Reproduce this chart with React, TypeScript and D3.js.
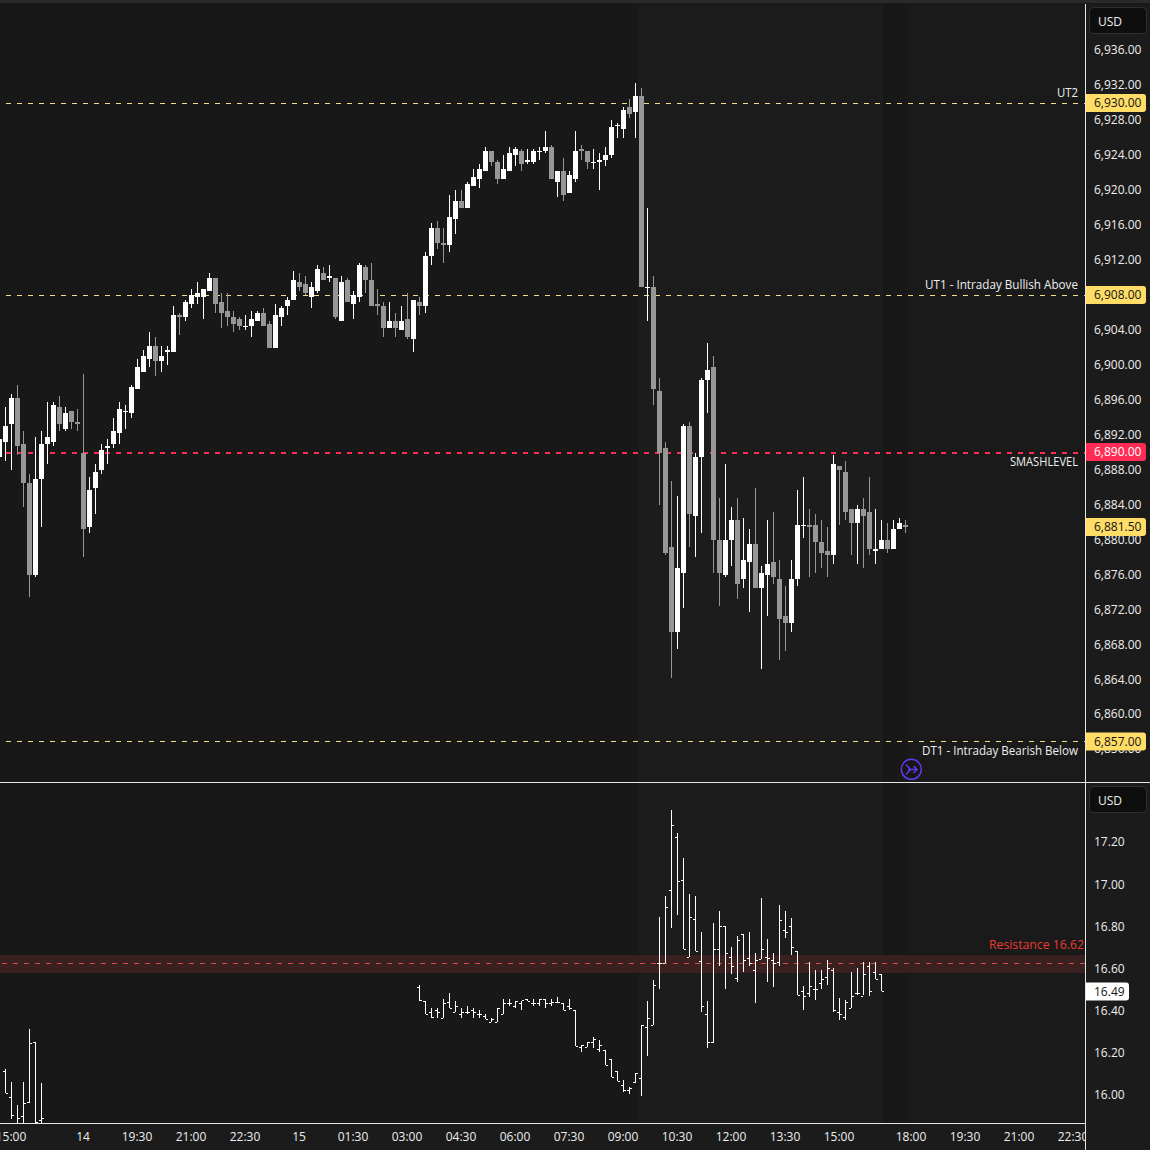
import React from "react";
import * as d3 from "d3";

// ---- Main price series (10-minute candles), first bar sits one slot left of slot 0
const firstSlot = -1;
const highs = [
  6892.5, 6895.25, 6896.75, 6897.75, 6892.5, 6887.5, 6891.75, 6892.5, 6895.75, 6895.75,
  6896.5, 6895.25, 6894.75, 6895, 6899, 6887.25, 6888.75, 6891, 6891.5, 6894,
  6895.75, 6895.5, 6897.75, 6900.75, 6901.75, 6903.75, 6903.25, 6902.25, 6902.25, 6906.75,
  6906, 6907.5, 6908.75, 6909.5, 6908.75, 6910.5, 6910, 6908.25, 6908.25, 6906.25,
  6905.5, 6905.75, 6906.25, 6906.25, 6906.5, 6905, 6907, 6906.75, 6907.75, 6910.75,
  6910.5, 6910.25, 6909.5, 6911.5, 6911.25, 6911.5, 6910, 6910.25, 6910, 6908.5,
  6911.75, 6911.5, 6911.75, 6908.75, 6907.25, 6907.25, 6906, 6906.75, 6908.25, 6907.5,
  6907.75, 6913, 6916.25, 6916.5, 6915.75, 6919.5, 6920, 6920, 6921, 6922.5,
  6923, 6925, 6924.5, 6923.5, 6924, 6925, 6925, 6924.75, 6924.75, 6924.75,
  6925, 6926.75, 6925.25, 6922.25, 6923.75, 6922.25, 6926.75, 6925.25, 6924.5, 6924.75,
  6924.25, 6925, 6928, 6927.75, 6929.5, 6930.5, 6932.25, 6931.75, 6918, 6910.25,
  6898.5, 6891.25, 6886.75, 6885, 6893.25, 6893.5, 6890, 6898.5, 6902.5, 6901,
  6884.75, 6888.75, 6883.75, 6884.75, 6882.5, 6881.25, 6886, 6877, 6882.25, 6883.25,
  6877.75, 6874.75, 6877.75, 6885.75, 6887.25, 6883.5, 6883, 6882.25, 6881.5, 6889.75,
  6888.5, 6889, 6883.5, 6884, 6884.75, 6887.25, 6883.5, 6882.25, 6882, 6882.25,
  6882.5, 6882.25,
];
const lows = [
  6889, 6889, 6888, 6889.75, 6883.75, 6873.5, 6875.75, 6881.5, 6888.75, 6890.75,
  6892.5, 6892.5, 6892.75, 6892.5, 6878, 6880.75, 6883, 6887.5, 6888.75, 6890.5,
  6891, 6892.75, 6894, 6897.25, 6899.25, 6899.75, 6898.75, 6899.25, 6900, 6901.5,
  6903.5, 6905, 6906.5, 6907, 6905.25, 6908.5, 6906, 6904.25, 6904.5, 6903.75,
  6904, 6904, 6903.25, 6905, 6904.5, 6902, 6902, 6904.5, 6905.75, 6907.5,
  6908.5, 6908, 6906.5, 6908.25, 6909.75, 6909.5, 6905.25, 6905, 6907.25, 6905.25,
  6907.25, 6908.25, 6906.75, 6905.75, 6903.25, 6904.25, 6903.25, 6904, 6903, 6901.5,
  6905.75, 6906, 6911.5, 6913.25, 6911.75, 6913, 6915, 6918, 6918, 6920.5,
  6920.25, 6922.25, 6922.75, 6920.75, 6921.25, 6922.25, 6922.75, 6922.25, 6923, 6923,
  6923.5, 6924.25, 6921.25, 6919.25, 6918.75, 6919.75, 6921, 6923.5, 6922.5, 6922.5,
  6920, 6922.75, 6923.75, 6926, 6926, 6928.25, 6926, 6909, 6905, 6895.5,
  6884, 6878.25, 6864.25, 6867.5, 6872.25, 6879.25, 6878, 6880.75, 6894.5, 6876.25,
  6872.5, 6875.75, 6877, 6873.25, 6874.5, 6871.75, 6874.5, 6865.25, 6871.25, 6875,
  6866.25, 6867.25, 6869.5, 6874.75, 6880.25, 6875.75, 6876.25, 6876.75, 6875.75, 6877.25,
  6881.75, 6882.25, 6878.25, 6877.25, 6876.75, 6878.25, 6877.25, 6879, 6878.5, 6879,
  6881.25, 6880.75,
];
const opens = [
  6889.5, 6891.25, 6893.25, 6896.25, 6891, 6886.5, 6876, 6887, 6891, 6891.25,
  6895.25, 6892.75, 6894.75, 6893.5, 6890, 6881.5, 6886, 6888, 6890.5, 6891,
  6892.25, 6894.75, 6894.5, 6897.25, 6899.25, 6900.75, 6902.25, 6900.5, 6901.5, 6901.5,
  6905.75, 6905.5, 6907, 6907.75, 6907.75, 6908.5, 6910, 6907.25, 6906.25, 6905.5,
  6905.25, 6904.5, 6904.5, 6905, 6906, 6904.75, 6902, 6905.5, 6906.75, 6907.5,
  6909.5, 6909.25, 6907.75, 6908.5, 6910.5, 6910, 6910, 6905, 6909.75, 6907,
  6907.75, 6911.25, 6909.75, 6907, 6906.75, 6904.25, 6905, 6904, 6905.25, 6903,
  6907.25, 6906.75, 6912.5, 6915.75, 6914, 6913.75, 6916.75, 6918.75, 6918, 6920.5,
  6921.25, 6922.25, 6924.5, 6923.25, 6921.25, 6922.25, 6924, 6924.5, 6923.25, 6923.25,
  6924.5, 6924.5, 6925, 6921, 6922.25, 6919.75, 6921.25, 6924.75, 6924.5, 6923.25,
  6923.25, 6923.5, 6924, 6927.5, 6927, 6929.5, 6929, 6930.75, 6909, 6909,
  6897, 6890.5, 6879.25, 6869.5, 6876.25, 6893, 6882.75, 6889.5, 6898.25, 6899.75,
  6880, 6876, 6880, 6882.25, 6875.5, 6877.5, 6879.5, 6874.5, 6876, 6877.5,
  6875.5, 6871.25, 6870.5, 6875.5, 6881.75, 6881.75, 6881.75, 6879.75, 6878.75, 6878.25,
  6888.5, 6887.75, 6883.5, 6882, 6883.5, 6883.25, 6878.75, 6879, 6880, 6879,
  6881.25, 6881.75,
];
const closes = [
  6891.5, 6893, 6896.25, 6890.75, 6886.5, 6876, 6887, 6891, 6891.75, 6895.5,
  6893.25, 6894.5, 6893.5, 6893.25, 6881.25, 6885.75, 6887.75, 6890.25, 6890.75, 6892.5,
  6895, 6894.75, 6897.5, 6899.75, 6901, 6902.25, 6900.5, 6901, 6901.75, 6905.75,
  6905.5, 6907.25, 6908, 6908.25, 6908.75, 6910, 6907, 6906, 6905.5, 6904.75,
  6904.5, 6904.5, 6905.25, 6906, 6904.5, 6902, 6905.75, 6906.5, 6907.5, 6909.75,
  6909, 6908.25, 6909, 6911, 6909.75, 6910.25, 6905.5, 6909.5, 6907.25, 6908,
  6911.5, 6909.75, 6906.75, 6906.75, 6904.25, 6905, 6904.25, 6905, 6903.25, 6907.5,
  6906.75, 6912.5, 6915.75, 6914, 6913.75, 6917, 6918.75, 6918, 6920.75, 6921.5,
  6922.5, 6924.5, 6923.25, 6921.25, 6922.5, 6924.25, 6924.75, 6923, 6923.5, 6924.5,
  6924.5, 6925, 6921.25, 6922.25, 6919.5, 6921.75, 6924.5, 6924.5, 6923.25, 6923.25,
  6923.5, 6924, 6927.25, 6927.5, 6929.25, 6928.75, 6930.75, 6909, 6909, 6897.25,
  6890, 6878.5, 6869.5, 6876.75, 6893, 6883, 6889.5, 6898.25, 6899.5, 6880,
  6876.25, 6880, 6882.25, 6875, 6877.75, 6879.5, 6874.5, 6876.25, 6877.25, 6875.75,
  6871, 6870.5, 6875.5, 6881.75, 6881.75, 6881.5, 6879.75, 6878.5, 6878.25, 6888.75,
  6888, 6883.25, 6882, 6883.5, 6882.75, 6879, 6879, 6880, 6879, 6881.25,
  6882, 6881.5,
];

// ---- Lower pane OHLC bars: early session
const earlyStart = 0;
const earlyHigh = [16.12, 16.057, 15.95, 16.057, 16.31, 16.247, 16.05];
const earlyLow = [16.005, 15.88, 15.84, 15.86, 15.957, 15.85, 15.85];
const earlyOpen = [16.11, 15.985, 15.86, 15.895, 15.96, 16.245, 15.876];
const earlyClose = [16.005, 15.9, 15.885, 15.957, 16.24, 15.867, 15.886];

// ---- Lower pane OHLC bars: later session
const lateStart = 69;
const lateHigh = [
  16.52, 16.44, 16.41, 16.41, 16.45, 16.48, 16.44, 16.41, 16.42, 16.41,
  16.40, 16.38, 16.36, 16.41, 16.45, 16.45, 16.44, 16.44, 16.45, 16.45,
  16.45, 16.45, 16.45, 16.46, 16.43, 16.45, 16.40, 16.235, 16.245, 16.27,
  16.255, 16.21, 16.165, 16.11, 16.065, 16.035, 16.10, 16.33, 16.44, 16.54,
  16.84, 16.94, 17.35, 17.24, 17.12, 16.95, 16.94, 16.77, 16.44, 16.81,
  16.87, 16.80, 16.70, 16.75, 16.76, 16.77, 16.67, 16.93, 16.735, 16.67,
  16.90, 16.87, 16.835, 16.68, 16.515, 16.625, 16.59, 16.59, 16.635, 16.60,
  16.455, 16.445, 16.58, 16.60, 16.625, 16.625, 16.625, 16.57,
];
const lateLow = [
  16.44, 16.38, 16.36, 16.36, 16.36, 16.41, 16.39, 16.36, 16.38, 16.36,
  16.36, 16.355, 16.34, 16.34, 16.38, 16.42, 16.41, 16.40, 16.44, 16.42,
  16.42, 16.41, 16.42, 16.43, 16.40, 16.40, 16.23, 16.20, 16.225, 16.22,
  16.20, 16.14, 16.08, 16.06, 16.01, 16.00, 16.05, 15.99, 16.18, 16.33,
  16.50, 16.62, 16.79, 16.85, 16.69, 16.65, 16.68, 16.39, 16.22, 16.24,
  16.61, 16.50, 16.57, 16.53, 16.58, 16.61, 16.43, 16.64, 16.53, 16.51,
  16.61, 16.74, 16.66, 16.47, 16.40, 16.46, 16.445, 16.50, 16.52, 16.39,
  16.35, 16.35, 16.41, 16.47, 16.47, 16.465, 16.545, 16.49,
];
const lateOpen = [
  16.51, 16.44, 16.39, 16.40, 16.36, 16.435, 16.39, 16.38, 16.39, 16.40,
  16.38, 16.37, 16.34, 16.34, 16.38, 16.43, 16.42, 16.43, 16.45, 16.43,
  16.43, 16.45, 16.43, 16.435, 16.43, 16.42, 16.40, 16.225, 16.225, 16.245,
  16.215, 16.21, 16.165, 16.11, 16.045, 16.02, 16.055, 16.075, 16.32, 16.33,
  16.62, 16.62, 16.97, 17.22, 17.015, 16.65, 16.83, 16.63, 16.38, 16.245,
  16.69, 16.80, 16.65, 16.55, 16.76, 16.645, 16.59, 16.64, 16.65, 16.635,
  16.625, 16.78, 16.80, 16.68, 16.49, 16.48, 16.50, 16.525, 16.555, 16.59,
  16.39, 16.365, 16.41, 16.48, 16.465, 16.61, 16.58, 16.57,
];
const lateClose = [
  16.445, 16.38, 16.365, 16.39, 16.43, 16.41, 16.42, 16.39, 16.39, 16.39,
  16.38, 16.355, 16.355, 16.41, 16.43, 16.43, 16.44, 16.445, 16.44, 16.43,
  16.45, 16.43, 16.435, 16.435, 16.40, 16.41, 16.23, 16.235, 16.245, 16.26,
  16.235, 16.14, 16.08, 16.06, 16.02, 16.03, 16.10, 16.33, 16.36, 16.52,
  16.62, 16.89, 17.28, 17.01, 16.69, 16.84, 16.68, 16.42, 16.245, 16.69,
  16.80, 16.67, 16.61, 16.73, 16.635, 16.62, 16.635, 16.69, 16.645, 16.62,
  16.825, 16.77, 16.70, 16.47, 16.465, 16.515, 16.50, 16.545, 16.60, 16.40,
  16.38, 16.435, 16.465, 16.48, 16.57, 16.49, 16.545, 16.49,
];

// ---- Axis labels and levels
const priceTicks = [6936, 6932, 6928, 6924, 6920, 6916, 6912, 6908, 6904, 6900, 6896, 6892, 6888, 6884, 6880, 6876, 6872, 6868, 6864, 6860, 6856];
const vixTicks = [17.2, 17.0, 16.8, 16.6, 16.4, 16.2, 16.0];
const timeSlots = [0, 13, 22, 31, 40, 49, 58, 67, 76, 85, 94, 103, 112, 121, 130, 139, 151, 160, 169, 178];
const timeLabels = ["15:00", "14", "19:30", "21:00", "22:30", "15", "01:30", "03:00", "04:30", "06:00", "07:30", "09:00", "10:30", "12:00", "13:30", "15:00", "18:00", "19:30", "21:00", "22:30"];
const levelNames = ["UT2", "UT1 - Intraday Bullish Above", "SMASHLEVEL", "DT1 - Intraday Bearish Below"];
const levelPrices = [6930, 6908, 6890, 6857];
const levelKinds = ["gold", "gold", "red", "gold"];
const lastPrice = 6881.5;
const lastVix = 16.49;
const resistance = 16.62;
const resistanceLow = 16.575;
const resistanceHigh = 16.66;

const FONT = "'Open Sans', 'Noto Sans', sans-serif";
const BG = "#181818";
const GRAY = "#979797";
const GOLD = "#ffdd66";
const RED = "#ff2d55";
const AXIS_X = 1085;
const TEXT = "#eeeeee";

const xPos = d3.scaleLinear().domain([0, 1]).range([5.5, 11.5]);
const yPrice = d3.scaleLinear().domain([6930, 6857]).range([103, 741]);
const yVix = d3.scaleLinear().domain([16, 17]).range([1094, 883.5]);
const priceFmt = d3.format(",.2f");
const vixFmt = d3.format(".2f");

function Candles() {
  return (
    <g clipPath="url(#clipTop)">
      {highs.map((h, i) => {
        const cx = xPos(firstSlot + i);
        const o = opens[i];
        const c = closes[i];
        const up = c >= o;
        const fill = up ? "#ffffff" : GRAY;
        const top = Math.round(yPrice(Math.max(o, c)));
        const bot = Math.round(yPrice(Math.min(o, c)));
        const yh = Math.round(yPrice(h));
        const yl = Math.round(yPrice(lows[i]));
        return (
          <g key={i} fill={fill}>
            <rect x={cx - 0.5} y={yh} width={1} height={Math.max(1, yl - yh)} />
            <rect x={cx - 2.5} y={top} width={5} height={Math.max(1, bot - top)} />
          </g>
        );
      })}
    </g>
  );
}

function Bars({ start, hi, lo, op, cl }: { start: number; hi: number[]; lo: number[]; op: number[]; cl: number[] }) {
  return (
    <g fill="#ffffff">
      {hi.map((h, i) => {
        const cx = xPos(start + i);
        const yh = Math.round(yVix(h));
        const yl = Math.round(yVix(lo[i]));
        return (
          <g key={i}>
            <rect x={cx - 0.5} y={yh} width={1} height={Math.max(1, yl - yh)} />
            <rect x={cx - 2.5} y={Math.round(yVix(op[i]))} width={2} height={1} />
            <rect x={cx + 0.5} y={Math.round(yVix(cl[i]))} width={2} height={1} />
          </g>
        );
      })}
    </g>
  );
}

function PriceTag({ y, text, fill, color, w = 60 }: { y: number; text: string; fill: string; color: string; w?: number }) {
  const x0 = AXIS_X + 1;
  const h = 18;
  const t = y - h / 2;
  const r = 3;
  const d = `M${x0},${t}H${x0 + w - r}Q${x0 + w},${t} ${x0 + w},${t + r}V${t + h - r}Q${x0 + w},${t + h} ${x0 + w - r},${t + h}H${x0}Z`;
  return (
    <g>
      <path d={d} fill={fill} />
      <text x={x0 + 8} y={y + 4.3} fill={color} fontSize={12} fontWeight={500}>{text}</text>
    </g>
  );
}

function UsdBox({ y }: { y: number }) {
  return (
    <g>
      <rect x={1089.5} y={y + 0.5} width={57} height={26} rx={4} fill="#0e0e0e" stroke="#2f2f2f" />
      <text x={1098} y={y + 19} fill={TEXT} fontSize={12} fontWeight={500}>USD</text>
    </g>
  );
}

export default function App() {
  return (
    <svg
      width={1150}
      height={1150}
      viewBox="0 0 1150 1150"
      style={{ position: "fixed", left: 0, top: 0, display: "block" }}
      fontFamily={FONT}
    >
      <defs>
        <clipPath id="clipTop"><rect x={0} y={5} width={AXIS_X} height={777} /></clipPath>
        <clipPath id="clipLow"><rect x={0} y={783} width={AXIS_X} height={340} /></clipPath>
        <clipPath id="clipTime"><rect x={0} y={1124} width={AXIS_X} height={26} /></clipPath>
      </defs>

      <rect x={0} y={0} width={1150} height={1150} fill={BG} />
      <rect x={0} y={0} width={1150} height={3} fill="#2a2a2a" />
      <rect x={638} y={5} width={245} height={777} fill="#1c1c1c" />
      <rect x={638} y={783} width={245} height={340} fill="#1c1c1c" />
      <rect x={907} y={5} width={178} height={777} fill="#1a1a1a" />
      <rect x={907} y={783} width={178} height={340} fill="#1a1a1a" />
      <rect x={AXIS_X} y={5} width={65} height={1145} fill="#1b1b1b" />
      <rect x={0} y={1124} width={AXIS_X} height={26} fill="#1b1b1b" />

      {/* level lines */}
      {levelPrices.map((p, i) => (
        <line
          key={p}
          x1={6}
          x2={AXIS_X}
          y1={levelKinds[i] === "red" ? 453 : Math.round(yPrice(p)) + 0.5}
          y2={levelKinds[i] === "red" ? 453 : Math.round(yPrice(p)) + 0.5}
          stroke={levelKinds[i] === "red" ? RED : "#f4de8c"}
          strokeWidth={levelKinds[i] === "red" ? 2 : 1}
          strokeDasharray="5 6"
        />
      ))}

      <Candles />

      {/* lower pane */}
      <g clipPath="url(#clipLow)">
        <rect
          x={0}
          y={yVix(resistanceHigh)}
          width={AXIS_X}
          height={yVix(resistanceLow) - yVix(resistanceHigh)}
          fill="#3a2120"
        />
        <line
          x1={2}
          x2={AXIS_X}
          y1={Math.round(yVix(resistance)) + 0.5}
          y2={Math.round(yVix(resistance)) + 0.5}
          stroke="#d2504e"
          strokeDasharray="5 6"
        />
        <Bars start={earlyStart} hi={earlyHigh} lo={earlyLow} op={earlyOpen} cl={earlyClose} />
        <Bars start={lateStart} hi={lateHigh} lo={lateLow} op={lateOpen} cl={lateClose} />
        <text x={1084} y={949} textAnchor="end" fill="#ec3a30" fontSize={12} fontWeight={500} textLength={95} lengthAdjust="spacingAndGlyphs">{`Resistance ${vixFmt(resistance)}`}</text>
      </g>

      {/* level names */}
      <g fill={TEXT} fontSize={12} fontWeight={500} textAnchor="end" lengthAdjust="spacingAndGlyphs">
        <text x={1078} y={97} textLength={21} lengthAdjust="spacingAndGlyphs">{levelNames[0]}</text>
        <text x={1078} y={289} textLength={153} lengthAdjust="spacingAndGlyphs">{levelNames[1]}</text>
        <text x={1078} y={466} textLength={68} lengthAdjust="spacingAndGlyphs">{levelNames[2]}</text>
        <text x={1078} y={755} textLength={156} lengthAdjust="spacingAndGlyphs">{levelNames[3]}</text>
      </g>

      {/* jump-to icon */}
      <g fill="none" stroke="#6237ec" strokeWidth={1.5}>
        <circle cx={911.3} cy={769.3} r={10} fill="#171717" />
        <path d="M906,764.5 L910.5,769.5 L906,774.5 M908,769.5 H917 M913.5,766 L917,769.5 L913.5,773" />
      </g>

      {/* frame */}
      <rect x={AXIS_X} y={4} width={1} height={1146} fill="#e6e6e6" />
      <rect x={0} y={782} width={1150} height={1} fill="#e6e6e6" />
      <rect x={0} y={1123} width={AXIS_X + 1} height={1} fill="#e6e6e6" />

      {/* price axis */}
      <UsdBox y={7} />
      <g fill={TEXT} fontSize={12} fontWeight={500}>
        {priceTicks.map((t) => (
          <text key={t} x={1094} y={yPrice(t) + 3.7}>{priceFmt(t)}</text>
        ))}
      </g>
      <PriceTag y={103} text={priceFmt(levelPrices[0])} fill={GOLD} color="#131313" />
      <PriceTag y={295} text={priceFmt(levelPrices[1])} fill={GOLD} color="#131313" />
      <PriceTag y={452} text={priceFmt(levelPrices[2])} fill={RED} color="#ffffff" />
      <PriceTag y={527} text={priceFmt(lastPrice)} fill={GOLD} color="#131313" />
      <PriceTag y={741.5} text={priceFmt(levelPrices[3])} fill={GOLD} color="#131313" />

      {/* lower axis */}
      <UsdBox y={786} />
      <g fill={TEXT} fontSize={12} fontWeight={500}>
        {vixTicks.map((t) => (
          <text key={t} x={1094} y={yVix(t) + 5}>{vixFmt(t)}</text>
        ))}
      </g>
      <PriceTag y={991.5} text={vixFmt(lastVix)} fill="#ffffff" color="#131313" w={43} />

      {/* time axis */}
      <g clipPath="url(#clipTime)" fill={TEXT} fontSize={12} fontWeight={500} textAnchor="middle">
        {timeSlots.map((s, i) => (
          <text key={i} x={xPos(s) - 0.5 + (s === 0 ? 6 : 0)} y={1141}>{timeLabels[i]}</text>
        ))}
      </g>
    </svg>
  );
}
